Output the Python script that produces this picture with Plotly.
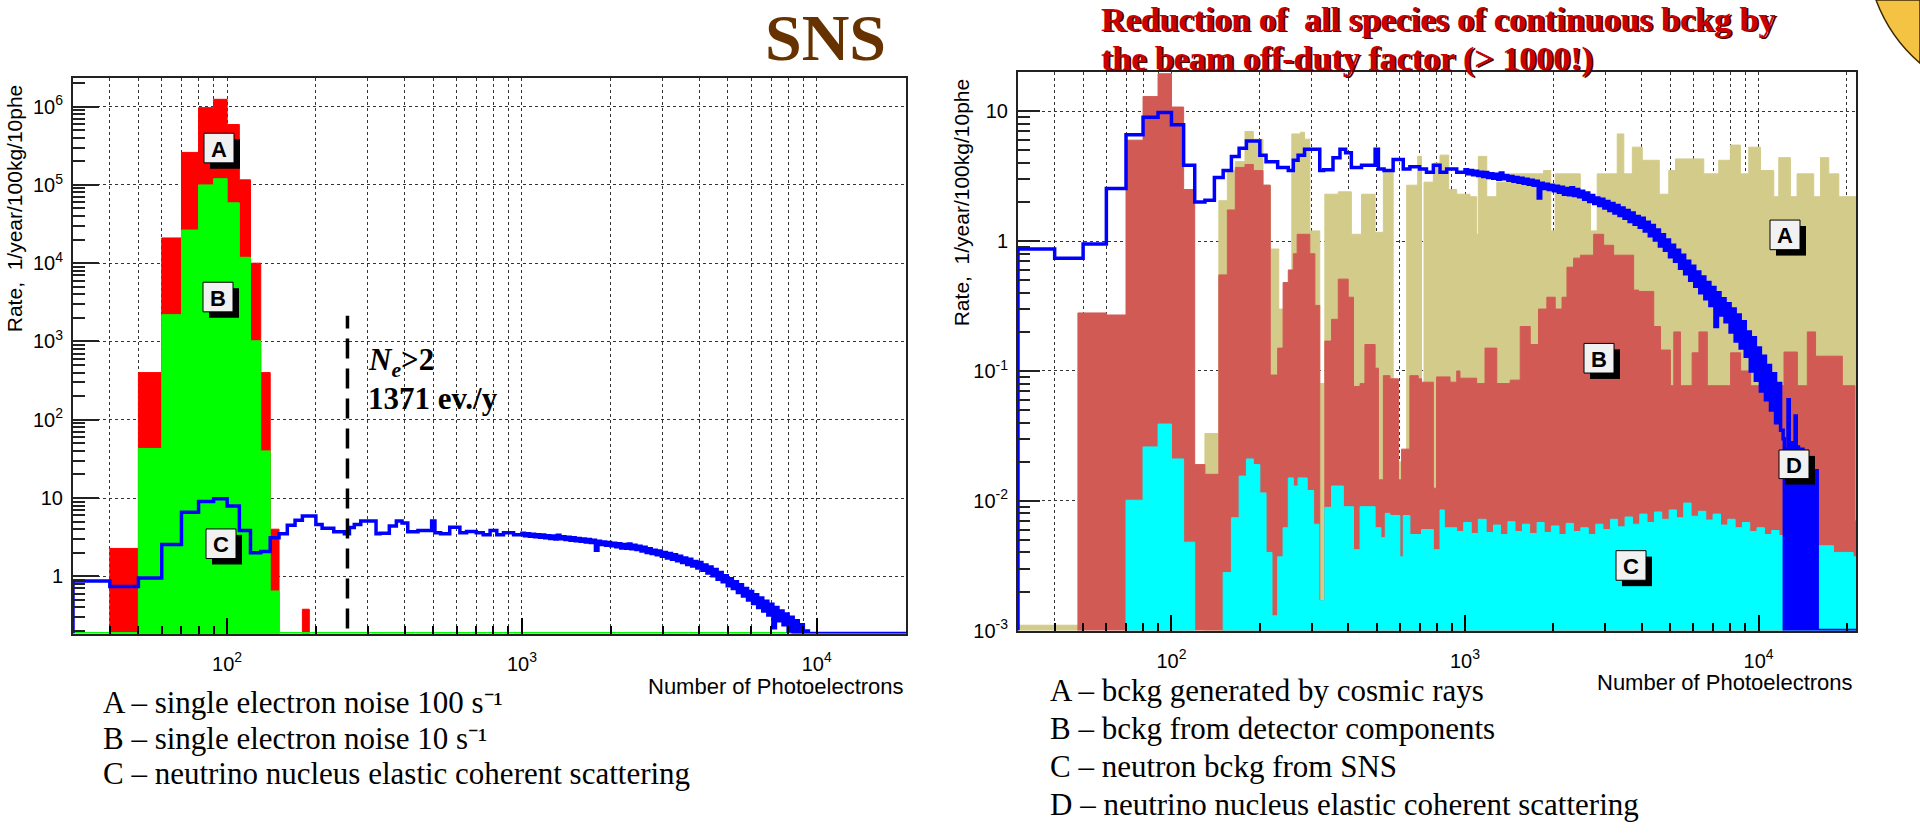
import math
import plotly.graph_objects as go

W, H = 1920, 836

# ---------------- data: left panel (single electron noise) ----------------
noiseA_edges = [40, 50, 60, 70, 80, 90, 100, 110, 120, 130, 140, 150, 180, 190]
noiseA_vals = [2.27, 400, 21000, 2.6e5, 9.7e5, 1.24e6, 5.9e5, 1.16e5, 1.0e4, 400, 4.0, 0, 0.38]

noiseB_edges = [50, 60, 70, 80, 90, 100, 110, 120, 130, 140, 150]
noiseB_vals = [43, 2200, 26500, 1.0e5, 1.2e5, 5.9e4, 1.19e4, 1020, 40, 0.65]

threshold_x = 256
threshold_y = [0.215, 2130]

# ---------------- data: CEvNS signal (shared by both panels) ----------------
nu_edges = [30, 40, 50, 60, 70, 80, 90, 100, 110, 120, 130, 140, 150, 160, 170, 180, 200, 210, 230, 250,
            260, 270, 284, 320, 330, 355, 375, 392, 410, 444, 494, 507, 530, 569, 616, 649, 700, 739, 780,
            822, 866, 937,
            1000, 1020, 1040, 1061, 1082, 1104, 1126, 1149, 1172, 1195,
            1219, 1243, 1268, 1294, 1319, 1346, 1373, 1400, 1428, 1457,
            1486, 1516, 1546, 1577, 1608, 1641, 1673, 1707, 1741, 1776,
            1811, 1848, 1885, 1922, 1961, 2000, 2040, 2081, 2122, 2165,
            2208, 2252, 2297, 2343, 2390, 2438, 2487, 2536, 2587, 2639,
            2692, 2745, 2800, 2856, 2913, 2972, 3031, 3092, 3154, 3217,
            3281, 3347, 3414, 3482, 3552, 3623, 3695, 3769, 3845, 3922,
            4000, 4080, 4162, 4245, 4330, 4416, 4505, 4595, 4687, 4780,
            4876, 4973, 5073, 5174, 5278, 5383, 5491, 5601, 5713, 5827,
            5943, 6062, 6184, 6307, 6434, 6562, 6694, 6828, 6964, 7103,
            7245, 7390, 7538, 7689, 7843, 8000, 8160, 8323, 8489, 8659,
            8833, 9009, 9189, 9373, 9561, 9752, 9947, 10146, 10349, 10556,
            10767, 10982, 11202, 11426, 11655, 11888, 12126,
            12240, 12360, 12480, 12600, 12720, 12840, 12960, 13080, 13200, 13320, 13440, 13560, 13680, 13800,
            13920, 14040, 14160, 14280, 14400, 14520, 14640, 14760, 14880, 15000, 15120, 15240, 15360, 15480,
            15600, 15720, 15840, 21500]
nu_vals = [0.87, 0.74, 0.95, 2.55, 6.6, 9.0, 9.8, 7.9, 3.85, 2.0, 2.07, 3.1, 3.5, 4.5, 5.2, 5.9, 4.6, 4.1,
           3.7, 3.5, 4.2, 4.6, 5.1, 3.5, 3.55, 4.4, 5.1, 4.8, 3.7, 3.85, 5.1, 3.6, 3.5, 4.25, 3.6, 3.75, 3.6,
           3.4, 3.85, 3.4, 3.6, 3.4,
           3.55, 3.3, 3.5, 3.25, 3.45, 3.2, 3.4, 3.15, 3.38, 3.1,
           3.3, 3.05, 3.28, 3.0, 3.35, 3.02, 3.2, 2.95, 3.15, 2.9,
           3.1, 2.85, 3.05, 2.8, 3.0, 2.75, 2.95, 2.7, 2.9, 2.15,
           2.8, 2.55, 2.75, 2.5, 2.7, 2.45, 2.65, 2.38, 2.6, 2.3,
           2.55, 2.28, 2.58, 2.25, 2.5, 2.2, 2.42, 2.1, 2.35, 2.02,
           2.25, 1.95, 2.15, 1.88, 2.1, 1.8, 2.02, 1.72, 1.95, 1.65,
           1.88, 1.58, 1.8, 1.5, 1.72, 1.42, 1.65, 1.35, 1.55, 1.28,
           1.5, 1.2, 1.4, 1.1, 1.32, 1.02, 1.22, 0.92, 1.12, 0.85,
           1.02, 0.76, 0.93, 0.7, 0.85, 0.62, 0.78, 0.56, 0.7, 0.5,
           0.64, 0.45, 0.58, 0.4, 0.53, 0.36, 0.48, 0.32, 0.44, 0.22,
           0.4, 0.27, 0.36, 0.24, 0.33, 0.2, 0.3, 0.17, 0.27, 0.15,
           0.24, 0.13, 0.2, 0.1, 0.18, 0.085, 0.15, 0.07, 0.13, 0.06,
           0.11, 0.05, 0.095, 0.04, 0.08, 0.035,
           0.03, 0, 0.025, 0, 0.06, 0, 0.028, 0, 0.024, 0, 0.045, 0, 0.026, 0, 0.022, 0, 0.025, 0, 0.02, 0,
           0.024, 0, 0.021, 0, 0.018, 0, 0.02, 0, 0.015, 0, 0.017, 0]

# ---------------- data: right panel backgrounds ----------------
cosmic_edges = [30, 50, 130, 145, 155, 165, 178, 190, 205, 217, 232, 244, 257, 275, 284, 296, 320, 333, 370,
                410, 444, 494, 527, 569, 633, 690, 711, 725, 780, 822, 880, 937, 1040, 1096, 1110, 1186, 1283,
                1425, 1850, 1960, 2029, 2470, 2676, 2820, 3300, 3475, 3715, 4017, 4590, 4945, 5214, 6507,
                7319, 8017, 8671, 9262, 10150, 11270, 11720, 12840, 13530, 15420, 16250, 17350, 18770, 21500]
cosmic_vals = [0.0011, 0, 0.033, 2.05, 3.5, 4.1, 7.0, 6.1, 2.7, 0.87, 0.3, 0.35, 6.7, 6.9, 6.1, 1.2, 0.08,
               2.3, 2.4, 1.13, 2.3, 1.17, 3.5, 0.02, 2.7, 4.5, 0.08, 2.85, 4.0, 4.6, 2.5, 2.3, 2.2, 1.13, 4.5,
               2.2, 2.85, 3.3, 3.5, 1.2, 3.3, 2.2, 1.2, 3.3, 6.7, 3.3, 5.3, 4.2, 2.3, 3.5, 4.3, 3.3, 4.2, 5.5,
               3.3, 5.3, 3.5, 2.2, 4.4, 2.2, 3.3, 2.2, 4.4, 3.3, 2.2]

det_edges = [30, 48, 60, 70, 80, 90, 100, 110, 120, 130, 145, 155, 165, 178, 190, 205, 217, 230, 240, 250,
             260, 268, 296, 308, 320, 333, 351, 370, 400, 417, 439, 456, 494, 507, 527, 555, 593, 608, 649,
             693, 711, 780, 800, 889, 937, 961, 1096, 1170, 1283, 1425, 1542, 1668, 1780, 1900, 2029, 2140,
             2225, 2344, 2472, 2743, 2967, 3209, 3753, 3905, 4395, 4633, 5008, 5143, 5420, 5940, 6265, 6690,
             8030, 8690, 9400, 12210, 13560, 14660, 15640, 16700, 19290, 21300, 21500]
det_vals = [0, 0.28, 0.27, 6.0, 13, 19.5, 10.8, 2.5, 0.019, 0.016, 0.55, 1.74, 3.7, 3.9, 3.5, 2.7, 0.093,
            0.15, 0.48, 0.6, 0.8, 1.13, 0.8, 0.32, 0.0017, 0.17, 0.25, 0.51, 0.37, 0.076, 0.08, 0.16, 0.105,
            0.0145, 0.092, 0.087, 0.0145, 0.025, 0.092, 0.087, 0.082, 0.0125, 0.09, 0.082, 0.1, 0.088, 0.08,
            0.15, 0.08, 0.085, 0.22, 0.16, 0.3, 0.37, 0.3, 0.37, 0.63, 0.74, 0.78, 1.13, 0.93, 0.78, 0.42,
            0.41, 0.22, 0.145, 0.077, 0.2, 0.077, 0.138, 0.2, 0.077, 0.138, 0.1, 0.077, 0.14, 0.077, 0.2,
            0.13, 0.13, 0.077, 0.007]

neut_edges = [30, 70, 80, 90, 100, 110, 120, 150, 160, 170, 180, 190, 200, 210, 220, 230, 240, 250, 260,
              270, 290, 305, 318, 333, 351, 385, 417, 439, 494, 517, 535, 555, 600, 616, 649, 711, 780, 822,
              850, 937, 990, 1050, 1110, 1180, 1250, 1320, 1400, 1480, 1570,
              1660, 1760, 1860, 1970, 2090, 2210, 2340, 2480, 2630, 2790,
              2950, 3130, 3310, 3510, 3720, 3940, 4170, 4420, 4680, 4960,
              5250, 5560, 5890, 6240, 6610, 7000, 7420, 7860, 8320, 8810,
              9330, 9880, 10470, 11090, 11740, 12190, 15840, 18000, 21000, 21500]
neut_vals = [0, 0.0101, 0.026, 0.039, 0.021, 0.0048, 0, 0.0028, 0.0074, 0.0155, 0.021, 0.019, 0.0115,
             0.004, 0.0013, 0.0037, 0.0062, 0.015, 0.013, 0.015, 0.012, 0.0066, 0.0017, 0.0089, 0.013, 0.009,
             0.0042, 0.009, 0.0062, 0.0052, 0.008, 0.0077, 0.0037, 0.0077, 0.0055, 0.006, 0.0042, 0.0085,
             0.0062,
             0.0058, 0.0068, 0.0056, 0.0072, 0.0057, 0.0065, 0.0055, 0.0069, 0.0058, 0.0066,
             0.0056, 0.0068, 0.0057, 0.0064, 0.0055, 0.0067, 0.0058, 0.0062, 0.0055, 0.0066,
             0.006, 0.0072, 0.0063, 0.0075, 0.0066, 0.0079, 0.0068, 0.0082, 0.0072, 0.0085,
             0.0074, 0.0096, 0.0076, 0.0083, 0.0071, 0.0079, 0.0065, 0.0072, 0.0062, 0.0068,
             0.0058, 0.0062, 0.0055, 0.0059, 0.0054,
             0.0056, 0.0045, 0.004, 0.0037]

left_ytick_vals = [1, 10, 1e2, 1e3, 1e4, 1e5, 1e6]
left_ytick_text = ["1", "10", "10<sup>2</sup>", "10<sup>3</sup>", "10<sup>4</sup>", "10<sup>5</sup>",
                   "10<sup>6</sup>"]
right_ytick_vals = [1e-3, 1e-2, 1e-1, 1, 10]
right_ytick_text = ["10<sup>-3</sup>", "10<sup>-2</sup>", "10<sup>-1</sup>", "1", "10"]
xtick_vals = [100, 1000, 10000]
xtick_text = ["10<sup>2</sup>", "10<sup>3</sup>", "10<sup>4</sup>"]

left_legend = ["A – single electron noise 100 s⁻¹",
               "B – single electron noise 10 s⁻¹",
               "C – neutrino nucleus elastic coherent scattering"]
right_legend = ["A – bckg generated by cosmic rays",
                "B – bckg from detector components",
                "C – neutron bckg from SNS",
                "D – neutrino nucleus elastic coherent scattering"]
right_title = ["Reduction of  all species of continuous bckg by",
               "the beam off-duty factor (&gt; 1000!)"]

# ---------------- geometry (pixels) ----------------
L_X0, L_X1, L_Y0, L_Y1 = 73, 906, 79, 642
R_X0, R_X1, R_Y0, R_Y1 = 1018, 1856, 73, 639
L_YMIN, L_YMAX = -0.731, 6.366
R_YMIN, R_YMAX = -3.0, 1.303
L_XR = [math.log10(30), 4.303]
R_XR = [math.log10(30), 4.332]


def px(x):
    return x / W


def py(y):
    return 1 - y / H


def step(edges, vals, floor):
    xs, ys = [edges[0]], [floor]
    for i, v in enumerate(vals):
        vv = v if v > floor else floor
        xs += [edges[i], edges[i + 1]]
        ys += [vv, vv]
    xs.append(edges[-1])
    ys.append(floor)
    return xs, ys


fig = go.Figure()


def add_fill(edges, vals, color, xa, ya, floor):
    xs, ys = step(edges, vals, floor)
    fig.add_trace(go.Scatter(x=xs, y=ys, mode="lines", fill="toself", fillcolor=color,
                             line=dict(color=color, width=1), xaxis=xa, yaxis=ya, hoverinfo="skip"))


def add_line(edges, vals, color, xa, ya, floor, width=3.5):
    xs, ys = step(edges, vals, floor)
    fig.add_trace(go.Scatter(x=xs, y=ys, mode="lines", line=dict(color=color, width=width),
                             xaxis=xa, yaxis=ya, hoverinfo="skip"))


# left panel
add_fill(noiseA_edges, noiseA_vals, "#ff0000", "x", "y", 0.05)
add_fill(noiseB_edges, noiseB_vals, "#00ff00", "x", "y", 0.05)
fig.add_trace(go.Scatter(x=[30, 20000], y=[10 ** L_YMIN, 10 ** L_YMIN], mode="lines",
                         line=dict(color="#00ff00", width=3), xaxis="x", yaxis="y", hoverinfo="skip"))
add_line(nu_edges, nu_vals, "#0000ff", "x", "y", 10 ** L_YMIN)
fig.add_trace(go.Scatter(x=[threshold_x, threshold_x], y=threshold_y, mode="lines",
                         line=dict(color="black", width=3.5, dash="20px,10px"),
                         xaxis="x", yaxis="y", hoverinfo="skip"))

# right panel
add_fill(cosmic_edges, cosmic_vals, "#d3cb8a", "x2", "y2", 1e-4)
add_fill(det_edges, det_vals, "#d25a55", "x2", "y2", 1e-4)
add_fill(neut_edges, neut_vals, "#00ffff", "x2", "y2", 1e-4)
add_line(nu_edges, nu_vals, "#0000ff", "x2", "y2", 10 ** R_YMIN)

tickfont = dict(family="Liberation Sans, Arial, sans-serif", size=20, color="black")
x_minor = [40, 50, 60, 70, 80, 90, 200, 300, 400, 500, 600, 700, 800, 900,
           2000, 3000, 4000, 5000, 6000, 7000, 8000, 9000, 20000]


def y_minor(lo, hi):
    out = []
    for e in range(lo, hi + 1):
        for d in range(2, 10):
            out.append(d * 10 ** e)
    return out


def xaxis_cfg(x0, x1, rng, anchor):
    return dict(domain=[px(x0), px(x1)], type="log", range=rng, anchor=anchor,
                tickmode="array", tickvals=xtick_vals, ticktext=xtick_text,
                ticks="inside", ticklen=16, tickwidth=1.5, tickcolor="black",
                showgrid=True, gridcolor="#333", griddash="dot", gridwidth=1,
                minor=dict(tickmode="array", tickvals=x_minor, ticks="inside", ticklen=8,
                           tickwidth=1.5, tickcolor="black", showgrid=True, gridcolor="#333",
                           griddash="dot", gridwidth=1),
                showline=True, linecolor="#222", linewidth=2, mirror=True, zeroline=False,
                tickfont=tickfont, ticklabelstandoff=11)


def yaxis_cfg(y0, y1, rng, anchor, tv, tt, mlo, mhi, majlen):
    return dict(domain=[py(y1), py(y0)], type="log", range=rng, anchor=anchor,
                tickmode="array", tickvals=tv, ticktext=tt,
                ticks="inside", ticklen=majlen, tickwidth=2, tickcolor="#222",
                showgrid=True, gridcolor="#333", griddash="dot", gridwidth=1,
                minor=dict(tickmode="array", tickvals=y_minor(mlo, mhi), ticks="inside", ticklen=12,
                           tickwidth=2, tickcolor="#222", showgrid=False),
                showline=True, linecolor="#222", linewidth=2, mirror=True, zeroline=False,
                tickfont=tickfont, ticklabelstandoff=4)


fig.update_layout(
    width=W, height=H, autosize=False, margin=dict(l=0, r=0, t=0, b=0),
    paper_bgcolor="white", plot_bgcolor="white", showlegend=False,
    xaxis=xaxis_cfg(L_X0, L_X1, L_XR, "y"),
    yaxis=yaxis_cfg(L_Y0, L_Y1, [L_YMIN, L_YMAX], "x", left_ytick_vals, left_ytick_text, -1, 6, 26),
    xaxis2=xaxis_cfg(R_X0, R_X1, R_XR, "y2"),
    yaxis2=yaxis_cfg(R_Y0, R_Y1, [R_YMIN, R_YMAX], "x2", right_ytick_vals, right_ytick_text, -3, 1, 22),
)

shapes = []
annotations = []


# letter boxes with ROOT-style shadow
def letter_box(x0, y0, letter, w=30, h=30):
    shapes.append(dict(type="rect", xref="paper", yref="paper", x0=px(x0 + 6), x1=px(x0 + w + 6),
                       y0=py(y0 + h + 6), y1=py(y0 + 6), fillcolor="black", line=dict(width=0),
                       layer="above"))
    shapes.append(dict(type="rect", xref="paper", yref="paper", x0=px(x0), x1=px(x0 + w),
                       y0=py(y0 + h), y1=py(y0), fillcolor="#f1f1f1", line=dict(color="black", width=1),
                       layer="above"))
    annotations.append(dict(xref="paper", yref="paper", x=px(x0 + w / 2), y=py(y0 + h / 2 + 1),
                            text="<b>%s</b>" % letter, showarrow=False, xanchor="center",
                            yanchor="middle",
                            font=dict(family="Liberation Sans, Arial", size=22, color="black")))


letter_box(204, 135, "A")
letter_box(203, 286, "B")
letter_box(206, 536, "C")
letter_box(1770, 223, "A")
letter_box(1584, 348, "B")
letter_box(1616, 558, "C")
letter_box(1779, 456, "D", h=29)

# decorative yellow shape, top right corner
shapes.append(dict(type="path", xref="paper", yref="paper",
                   path="M %f %f Q %f %f %f %f L %f %f Z" % (px(1876), py(0), px(1890), py(38), px(1920),
                                                             py(64), px(1920), py(0)),
                   fillcolor="#f5c344", line=dict(color="#3a2a00", width=1.5), layer="above"))

sans = "Liberation Sans, Arial, sans-serif"
serif = "Liberation Serif, Times New Roman, serif"

# axis titles
for cx, cy in [(14, 211), (961, 205)]:
    annotations.append(dict(xref="paper", yref="paper", x=px(cx), y=py(cy), text="Rate,  1/year/100kg/10phe",
                            textangle=-90, showarrow=False, xanchor="center", yanchor="middle",
                            font=dict(family=sans, size=21, color="black")))
for rx, cy in [(906, 696), (1855, 692)]:
    annotations.append(dict(xref="paper", yref="paper", x=px(rx), y=py(cy), text="Number of Photoelectrons",
                            showarrow=False, xanchor="right", yanchor="middle",
                            font=dict(family=sans, size=22, color="black")))

# SNS title
annotations.append(dict(xref="paper", yref="paper", x=px(825), y=py(38), text="<b>SNS</b>",
                        showarrow=False, xanchor="center", yanchor="middle",
                        font=dict(family=serif, size=66, color="#663300")))

# right red title (dark shadow behind bright red text)
for txt, top in zip(right_title, [0, 39.5]):
    annotations.append(dict(xref="paper", yref="paper", x=px(1102), y=py(top + 1.5), text="<b>%s</b>" % txt,
                            showarrow=False, xanchor="left", yanchor="top", borderpad=0,
                            font=dict(family=serif, size=34, color="#4a0000")))
    annotations.append(dict(xref="paper", yref="paper", x=px(1100), y=py(top), text="<b>%s</b>" % txt,
                            showarrow=False, xanchor="left", yanchor="top", borderpad=0,
                            font=dict(family=serif, size=34, color="#cc0000")))

# threshold text
annotations.append(dict(xref="paper", yref="paper", x=px(366), y=py(367),
                        text="<b><i>N</i><sub><i>e</i></sub>&gt;2</b>", showarrow=False,
                        xanchor="left", yanchor="middle", font=dict(family=serif, size=31, color="black")))
annotations.append(dict(xref="paper", yref="paper", x=px(366), y=py(404),
                        text="<b>1371 ev./y</b>", showarrow=False,
                        xanchor="left", yanchor="middle", font=dict(family=serif, size=31, color="black")))

# legends below plots
for i, t in enumerate(left_legend):
    annotations.append(dict(xref="paper", yref="paper", x=px(101), y=py(712 + 36 * i), text=t,
                            showarrow=False, xanchor="left", yanchor="middle",
                            font=dict(family=serif, size=31, color="black")))
for i, t in enumerate(right_legend):
    annotations.append(dict(xref="paper", yref="paper", x=px(1048), y=py(700 + 38.5 * i), text=t,
                            showarrow=False, xanchor="left", yanchor="middle",
                            font=dict(family=serif, size=31, color="black")))

fig.update_layout(shapes=shapes, annotations=annotations)
fig.write_html("out.html")
